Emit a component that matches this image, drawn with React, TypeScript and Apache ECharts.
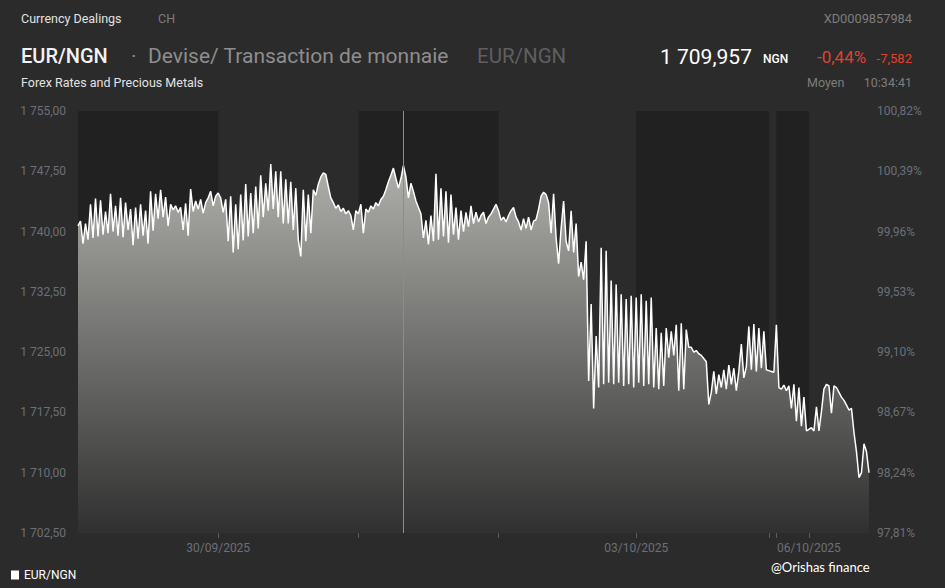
import React, { useEffect, useRef } from "react";
import * as echarts from "echarts";

// ---- Data (EUR/NGN intraday) ----
const d2909 = [
  1740.7, 1741.3, 1738.5, 1741.0, 1739.0, 1743.4, 1739.2, 1744.1, 1739.4, 1743.9,
  1739.6, 1742.5, 1739.8, 1744.7, 1740.0, 1743.2, 1739.5, 1744.2, 1739.3, 1743.6,
  1740.2, 1742.8, 1738.3, 1743.0, 1739.1, 1743.4, 1739.5, 1742.6, 1738.5, 1745.0,
  1740.1, 1744.7, 1741.6, 1745.2, 1741.8, 1744.3, 1740.7, 1743.4, 1742.7, 1743.2,
  1742.4, 1743.0, 1740.2, 1743.5, 1739.5, 1745.3, 1742.5, 1743.8, 1742.8, 1744.0,
  1742.3, 1743.6, 1744.2, 1745.0, 1743.2, 1744.4,
];
const d3009 = [
  1744.8, 1744.2, 1742.4, 1744.0, 1738.8, 1744.4, 1737.4, 1743.4, 1737.8, 1744.6,
  1738.9, 1745.9, 1739.4, 1744.8, 1739.8, 1745.6, 1740.4, 1747.0, 1741.8, 1746.0,
  1742.6, 1748.4, 1742.8, 1747.5, 1741.8, 1747.5, 1741.0, 1746.5, 1741.0, 1746.2,
  1740.2, 1745.4, 1739.0, 1736.9, 1745.2, 1738.8, 1744.6, 1739.8, 1745.2, 1744.5,
  1745.9, 1746.8, 1747.3, 1747.1, 1745.6, 1744.2, 1743.6, 1742.9, 1743.3, 1742.5,
  1742.9, 1742.2, 1742.6, 1742.0, 1740.2, 1742.6,
];
const d0110 = [
  1742.2, 1743.4, 1739.8, 1742.8, 1742.4, 1743.2, 1742.8, 1743.6, 1743.2, 1744.0,
  1744.4, 1745.2, 1746.2, 1747.0, 1747.9, 1746.6, 1745.4, 1746.6, 1748.2, 1746.8,
  1744.2, 1746.0, 1745.0, 1743.8, 1743.0, 1742.2, 1739.2, 1741.4, 1738.4, 1742.0,
  1738.8, 1747.2, 1739.0, 1745.4, 1739.4, 1745.0, 1738.6, 1744.6, 1739.6, 1743.0,
  1739.0, 1742.6, 1740.0, 1742.4, 1740.6, 1743.2, 1741.0, 1742.4, 1741.2, 1742.0,
  1742.4, 1741.0, 1741.8, 1742.2, 1742.8, 1743.4,
];
const d0210 = [
  1742.6, 1741.4, 1741.8, 1741.2, 1742.0, 1742.6, 1743.0, 1741.8, 1741.2, 1740.2,
  1741.6, 1740.4, 1741.8, 1740.2, 1741.3, 1741.5, 1742.8, 1744.4, 1744.9, 1744.6,
  1743.6, 1739.8, 1744.7, 1739.2, 1736.0, 1740.4, 1743.8, 1738.8, 1737.6, 1742.6,
  1737.4, 1741.0, 1734.4, 1736.2, 1734.0, 1738.8, 1721.4, 1731.0, 1718.0, 1727.0,
  1720.6, 1738.0, 1721.0, 1737.6, 1721.2, 1733.9, 1721.0, 1733.4, 1721.2, 1732.2,
  1720.8, 1731.6, 1721.0, 1732.0, 1720.6,
];
const d0310 = [
  1731.8, 1721.2, 1732.2, 1720.8, 1731.4, 1721.0, 1731.8, 1720.6, 1728.0, 1720.4,
  1727.4, 1720.8, 1728.0, 1724.3, 1727.6, 1724.6, 1728.4, 1720.2, 1728.6, 1720.4,
  1727.8, 1725.6, 1725.6, 1725.0, 1725.2, 1724.8, 1724.6, 1724.2, 1723.8, 1718.5,
  1720.0, 1722.6, 1719.8, 1722.2, 1720.6, 1722.8, 1720.4, 1723.4, 1721.0, 1723.0,
  1720.2, 1722.6, 1726.0, 1721.8, 1723.2, 1728.2, 1722.8, 1728.5, 1722.6, 1728.0,
  1723.0, 1727.6, 1722.8,
];
const weekendGap = [1722.7, 1722.6, 1722.5];
const d0510 = [
  1728.4, 1720.6, 1720.4, 1720.9, 1720.2, 1720.8, 1718.0, 1721.0, 1716.4, 1720.6,
  1715.8, 1719.4, 1715.2,
];
const d0610 = [
  1715.4, 1715.6, 1715.2, 1718.2, 1715.2, 1717.6, 1720.4, 1721.0, 1720.8, 1717.4,
  1720.8, 1720.6, 1720.0, 1719.4, 1719.0, 1718.4, 1717.8, 1718.0, 1715.0, 1712.6,
  1709.4, 1710.0, 1713.6, 1712.6, 1710.0,
];

// sessions in order: values, date label, shaded background
const sessionValues = [d2909, d3009, d0110, d0210, d0310, weekendGap, d0510, d0610];
const sessionLabels = ["29/09/2025", "30/09/2025", "01/10/2025", "02/10/2025", "03/10/2025", "", "05/10/2025", "06/10/2025"];
const sessionShaded = [true, false, true, false, true, false, true, false];
const shownDateLabels = ["30/09/2025", "03/10/2025", "06/10/2025"];
const cursorPoint = 130;

const leftTickLabels = ["1 702,50", "1 710,00", "1 717,50", "1 725,00", "1 732,50", "1 740,00", "1 747,50", "1 755,00"];
const rightTickLabels = ["97,81%", "98,24%", "98,67%", "99,10%", "99,53%", "99,96%", "100,39%", "100,82%"];

const FONT = "Roboto, 'Noto Sans', sans-serif";
const BG = "#2b2b2b";
const AXIS_TXT = "#6b6f78";

export default function App() {
  const ref = useRef<HTMLDivElement | null>(null);

  useEffect(() => {
    document.body.style.margin = "0";
    document.body.style.background = BG;
    if (!ref.current) return;
    const chart = echarts.init(ref.current, undefined, { renderer: "svg" });

    const values: number[] = [];
    const starts: number[] = [];
    sessionValues.forEach((seg) => {
      starts.push(values.length);
      seg.forEach((v) => values.push(v));
    });
    const categories = values.map((_, i) => String(i));
    const labelAt: Record<number, string> = {};
    starts.forEach((s, k) => {
      if (shownDateLabels.includes(sessionLabels[k])) labelAt[s] = sessionLabels[k];
    });
    const tickAt = starts.slice(1);
    const bands: any[] = [];
    starts.forEach((s, k) => {
      if (sessionShaded[k]) {
        const end = k + 1 < starts.length ? starts[k + 1] : values.length - 1;
        bands.push([{ xAxis: s }, { xAxis: end }]);
      }
    });

    const txt = (text: string, x: number, y: number, size: number, fill: string, opts: any = {}) => ({
      type: "text",
      x,
      y,
      silent: true,
      style: {
        text,
        fill,
        fontSize: size,
        fontFamily: opts.family || FONT,
        fontWeight: opts.weight || "normal",
        align: opts.align || "left",
        verticalAlign: "middle",
      },
    });

    chart.setOption({
      animation: false,
      backgroundColor: BG,
      grid: { left: 78, right: 76, top: 111, bottom: 55, containLabel: false },
      legend: {
        data: ["EUR/NGN"],
        left: 6,
        top: 564,
        icon: "rect",
        itemWidth: 8,
        itemHeight: 9,
        itemGap: 5,
        textStyle: { color: "#ffffff", fontSize: 12, fontFamily: FONT },
      },
      xAxis: {
        type: "category",
        data: categories,
        boundaryGap: false,
        axisLine: { show: false },
        axisTick: {
          show: true,
          length: 5,
          interval: (i: number) => tickAt.includes(i),
          lineStyle: { color: "#5a5a5a" },
        },
        axisLabel: {
          interval: (i: number) => labelAt[i] !== undefined,
          formatter: (_v: string, i: number) => labelAt[i] || "",
          color: AXIS_TXT,
          fontSize: 12,
          fontFamily: FONT,
          margin: 9,
        },
        splitLine: { show: false },
      },
      yAxis: [
        {
          type: "value",
          position: "left",
          min: 1702.5,
          max: 1755,
          interval: 7.5,
          axisLine: { show: false },
          axisTick: { show: false },
          splitLine: { show: false },
          axisLabel: {
            formatter: (v: number) => leftTickLabels[Math.round((v - 1702.5) / 7.5)] || "",
            color: AXIS_TXT,
            fontSize: 12,
            fontFamily: FONT,
            margin: 12,
          },
        },
        {
          type: "value",
          position: "right",
          min: 0,
          max: 7,
          interval: 1,
          axisLine: { show: false },
          axisTick: { show: false },
          splitLine: { show: false },
          axisLabel: {
            formatter: (v: number) => rightTickLabels[Math.round(v)] || "",
            color: AXIS_TXT,
            fontSize: 12,
            fontFamily: FONT,
            margin: 8,
          },
        },
      ],
      series: [
        {
          type: "line",
          data: [],
          z: 1,
          silent: true,
          markArea: { silent: true, itemStyle: { color: "#212121" }, data: bands },
        },
        {
          name: "EUR/NGN",
          type: "line",
          data: values,
          z: 2,
          symbol: "none",
          itemStyle: { color: "#ffffff" },
          lineStyle: { color: "#ffffff", width: 1.5 },
          areaStyle: {
            color: new echarts.graphic.LinearGradient(0, 0, 0, 1, [
              { offset: 0, color: "#afafab" },
              { offset: 1, color: "#303030" },
            ]),
            opacity: 1,
          },
          markLine: {
            silent: true,
            symbol: "none",
            label: { show: false },
            lineStyle: { color: "#8c8c8c", width: 1, type: "solid" },
            data: [{ xAxis: cursorPoint }],
          },
        },
      ],
      graphic: [
        txt("Currency Dealings", 21, 18, 12.5, "#e2e2e2"),
        txt("CH", 158, 18, 12.5, "#7d7d7d"),
        txt("XD0009857984", 912, 18, 12.8, "#7d7d7d", { align: "right" }),
        txt("EUR/NGN", 21, 56, 20, "#f2f2f2", { weight: 500 }),
        txt("·", 131, 56, 21, "#8e8e8e"),
        txt("Devise/ Transaction de monnaie", 148, 56, 21, "#8e8e8e"),
        txt("EUR/NGN", 477, 56, 20.5, "#5f5f5f"),
        txt("1 709,957", 660, 57, 21, "#ffffff"),
        txt("NGN", 763, 59, 12, "#ffffff", { weight: 500 }),
        txt("-0,44%", 817, 57, 17, "#e0412f"),
        txt("-7,582", 912, 58, 13, "#e0412f", { align: "right" }),
        txt("Forex Rates and Precious Metals", 21, 82, 12.5, "#e2e2e2"),
        txt("Moyen", 807, 82, 12.5, "#7d7d7d"),
        txt("10:34:41", 912, 82, 12.5, "#7d7d7d", { align: "right" }),
        txt("@Orishas finance", 771, 567, 13, "#ffffff", { family: "Lato, 'Open Sans', sans-serif" }),
      ],
    });

    return () => chart.dispose();
  }, []);

  return (
    <div
      ref={ref}
      style={{ position: "absolute", left: 0, top: 0, width: 945, height: 588, background: BG }}
    />
  );
}
